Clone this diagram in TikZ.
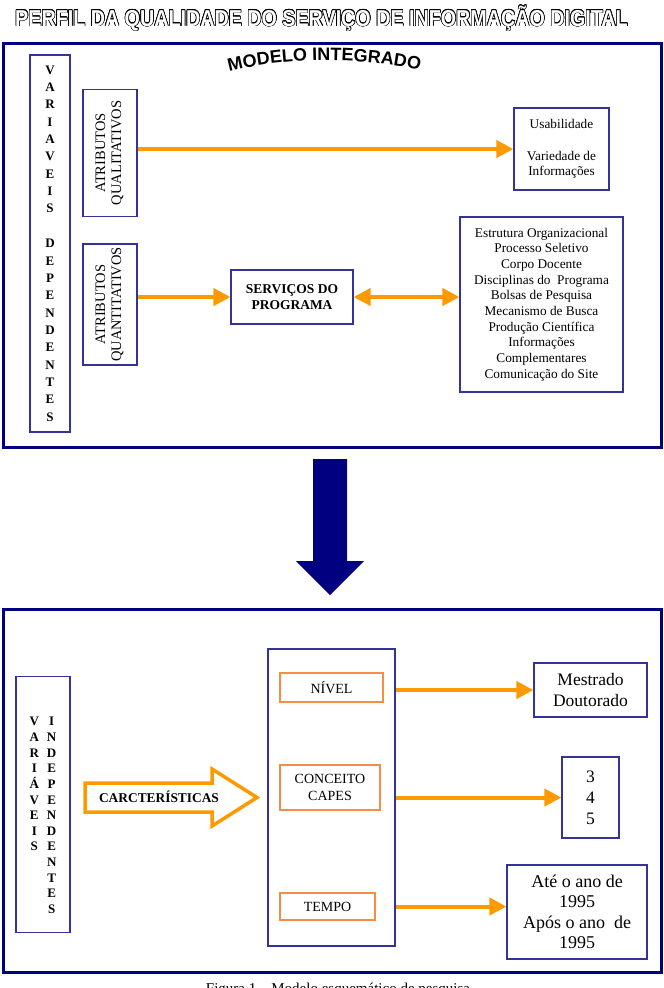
\documentclass[tikz,border=0pt]{standalone}
\usepackage{fontspec}
\setmainfont{Liberation Serif}
\newfontfamily\headsans{Liberation Sans}
\usepackage{contour}
\contourlength{0.7pt}
\usetikzlibrary{arrows.meta, positioning, calc, decorations.text}

\definecolor{framenavy}{RGB}{0,0,128}
\definecolor{boxblue}{RGB}{51,51,153}
\definecolor{flowor}{RGB}{255,153,0}
\definecolor{boxor}{RGB}{247,140,70}

\begin{document}
\begin{tikzpicture}[x=1pt, y=-1pt,
    frame/.style={draw=framenavy, line width=3pt},
    bx/.style={rectangle, draw=boxblue, line width=1.2pt, inner sep=0pt, font=\fontsize{13.3}{15.7}\selectfont},
    bbox/.style={bx, align=center},
    obox/.style={rectangle, draw=boxor, line width=1.2pt, align=center, inner sep=0pt, font=\fontsize{14}{16.3}\selectfont},
    bigtext/.style={bbox, font=\fontsize{17.5}{21}\selectfont},
    flow/.style={-{Triangle[length=17pt, width=17pt]}, line width=4pt, draw=flowor},
    both/.style={{Triangle[length=17pt, width=17pt]}-{Triangle[length=17pt, width=17pt]}, line width=4pt, draw=flowor}
]
\useasboundingbox (0,0) rectangle (664,988);
\clip (0,0) rectangle (664,988);

% title
\node[anchor=base, inner sep=0pt, font=\headsans\bfseries\fontsize{23}{23}\selectfont] (titulo) at (321.5,26)
    {\scalebox{0.857}[1]{\color{white}\contour{black}{PERFIL DA QUALIDADE DO SERVIÇO DE INFORMAÇÃO DIGITAL}}};

% upper block
\draw[frame] (3,43) rectangle (661,447);
\path[decorate, decoration={text along path, text align=center,
    text={|\headsans\bfseries\fontsize{18}{18}\selectfont|MODELO INTEGRADO}}]
    (228,72) .. controls (285,57) and (360,57) .. (421,70);

\node[bbox, minimum width=40, minimum height=377, font=\bfseries\fontsize{13}{17.35}\selectfont] (vdep) at (50,243.5)
    {V\\A\\R\\I\\A\\V\\E\\I\\S\\[17.35pt]D\\E\\P\\E\\N\\D\\E\\N\\T\\E\\S};
\node[bx, minimum width=54, minimum height=127, font=\fontsize{14.5}{16}\selectfont] (qual) at (110,153)
    {\rotatebox{90}{\begin{tabular}{@{}c@{}}ATRIBUTOS\\QUALITATIVOS\end{tabular}}};
\node[bx, minimum width=54, minimum height=121, font=\fontsize{14.5}{16}\selectfont] (quant) at (110,304.5)
    {\rotatebox{90}{\begin{tabular}{@{}c@{}}ATRIBUTOS\\QUANTITATIVOS\end{tabular}}};

\node[bbox, minimum width=95, minimum height=82] (usab) at (561.5,149)
    {Usabilidade\\[15.7pt]Variedade de\\Informações};
\node[bbox, minimum width=122, minimum height=54, font=\bfseries\fontsize{13.5}{16.5}\selectfont] (serv) at (292,297)
    {SERVIÇOS DO\\PROGRAMA};
\node[bbox, minimum width=163, minimum height=175] (lista) at (541.5,304.5)
    {Estrutura Organizacional\\Processo Seletivo\\Corpo Docente\\Disciplinas do\ \ Programa\\Bolsas de Pesquisa\\Mecanismo de Busca\\Produção Científica\\Informações\\Complementares\\Comunicação do Site};

\draw[flow] (qual.east |- usab.west) -- (usab.west);
\draw[flow] (quant.east |- serv.west) -- (serv.west);
\draw[both] (serv.east) -- (serv.east -| lista.west);

% big arrow between the blocks
\fill[framenavy] (313,459) -- (347,459) -- (347,561) -- (364,561) -- (330,595) -- (296,561) -- (313,561) -- cycle;

% lower block
\draw[frame] (3,609) rectangle (661,972);

\node[bx, anchor=north, minimum width=54, text height=49.3pt, text depth=206.7pt, font=\bfseries\fontsize{13}{15.6}\selectfont] (vind) at (43,676)
    {\begin{tabular}[t]{@{}c@{\hspace{8pt}}c@{}}
     V&I\\A&N\\R&D\\I&E\\Á&P\\V&E\\E&N\\I&D\\S&E\\&N\\&T\\&E\\&S
     \end{tabular}};

\draw[flowor, line width=3.5pt, fill=white] (85,783) -- (212,783) -- (212,769) -- (257,797.5) -- (212,826) -- (212,812) -- (85,812) -- cycle;
\node[font=\bfseries\fontsize{13.4}{15}\selectfont] (carac) at (159,797) {CARCTERÍSTICAS};

\node[bbox, minimum width=127, minimum height=297] (mid) at (331.5,797.5) {};
\node[obox, minimum width=103, minimum height=29] (nivel) at (331.5,687.5) {NÍVEL};
\node[obox, minimum width=100, minimum height=45] (conc) at (330,787.5) {CONCEITO\\CAPES};
\node[obox, minimum width=95, minimum height=27] (tempo) at (327.5,906.5) {TEMPO};

\node[bigtext, minimum width=113, minimum height=54] (mest) at (590.5,690) {Mestrado\\Doutorado};
\node[bigtext, minimum width=57, minimum height=81] (nums) at (590.5,797.5) {3\\4\\5};
\node[bigtext, minimum width=140, minimum height=94, font=\fontsize{18}{20.5}\selectfont] (ate) at (577,912)
    {Até o ano de\\1995\\Após o ano\ \ de\\1995};

\draw[flow] (mid.east |- mest.west) -- (mest.west);
\draw[flow] (mid.east |- nums.west) -- (nums.west);
\draw[flow] (mid.east |- tempo) -- (tempo -| ate.west);

\node[anchor=base, font=\fontsize{15}{17}\selectfont] (legenda) at (338,993) {Figura 1 – Modelo esquemático de pesquisa};
\end{tikzpicture}
\end{document}
